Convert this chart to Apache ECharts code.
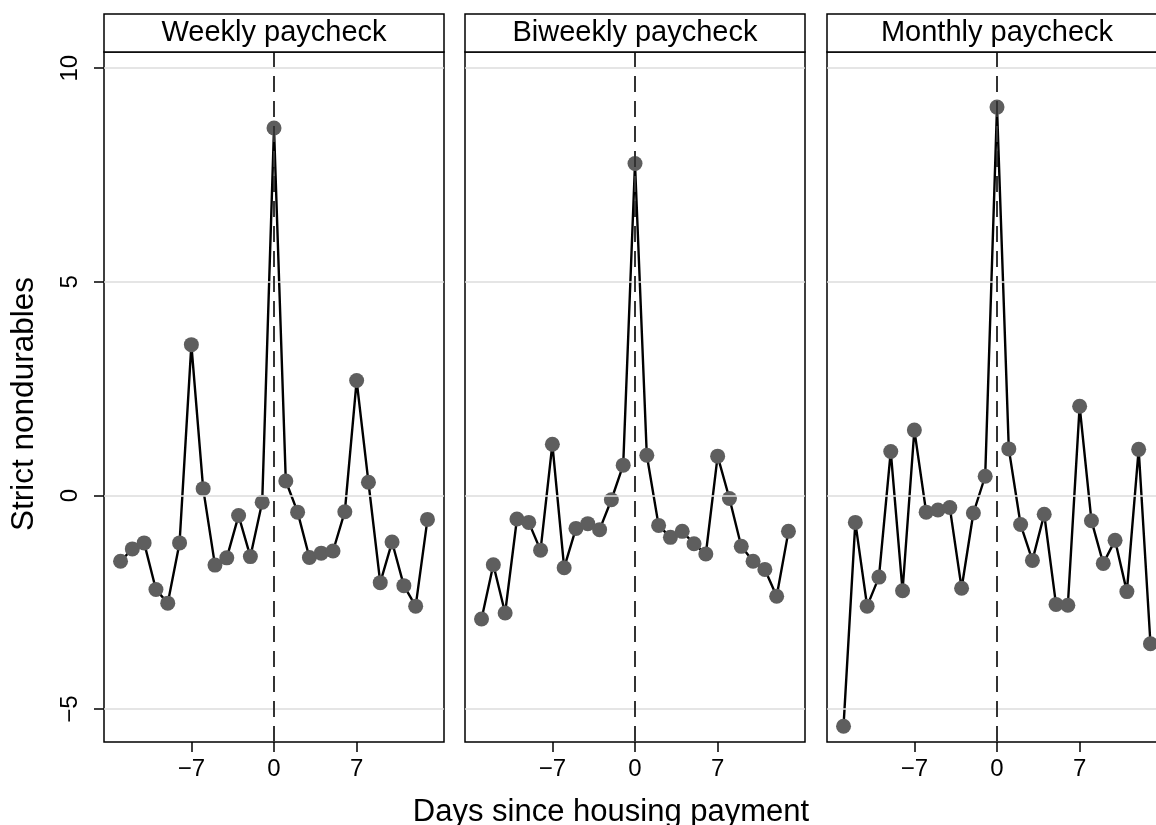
<!DOCTYPE html>
<html>
<head>
<meta charset="utf-8">
<script src="https://cdn.jsdelivr.net/npm/echarts@6/dist/echarts.min.js"></script>
<style>
html,body{margin:0;padding:0;background:#fff;overflow:hidden;width:1156px;height:825px;}
#c{width:1180px;height:825px;}
</style>
</head>
<body>
<div id="c"></div>
<script>
const days = [-13,-12,-11,-10,-9,-8,-7,-6,-5,-4,-3,-2,-1,0,1,2,3,4,5,6,7,8,9,10,11,12,13];
const weekly = [-1.54,-1.25,-1.11,-2.20,-2.52,-1.11,3.53,0.16,-1.63,-1.46,-0.47,-1.43,-0.16,8.60,0.34,-0.39,-1.45,-1.35,-1.30,-0.38,2.69,0.31,-2.04,-1.09,-2.11,-2.59,-0.56];
const biweekly = [-2.89,-1.62,-2.75,-0.55,-0.63,-1.28,1.20,-1.69,-0.77,-0.66,-0.80,-0.10,0.71,7.77,0.94,-0.70,-0.98,-0.84,-1.13,-1.37,0.92,-0.07,-1.19,-1.54,-1.73,-2.36,-0.84];
const monthly = [-5.40,-0.63,-2.59,-1.91,1.03,-2.23,1.53,-0.39,-0.34,-0.28,-2.17,-0.41,0.45,9.09,1.09,-0.68,-1.52,-0.44,-2.55,-2.57,2.09,-0.59,-1.59,-1.05,-2.25,1.08,-3.47];
const panelTitles = ['Weekly paycheck','Biweekly paycheck','Monthly paycheck'];
const xTicks = [-7,0,7];
const yTicks = [-5,0,5,10];

const FONT = '"Liberation Sans", Arial, Helvetica, sans-serif';
const panels = [weekly, biweekly, monthly];
const lefts = [104, 465, 827];
const PW = 340, TOP = 52, PH = 690;
const fmt = v => (v < 0 ? '\u2212' + Math.abs(v) : String(v));

const chart = echarts.init(document.getElementById('c'), null, {renderer:'canvas'});

const grids = [], xAxes = [], yAxes = [], series = [], graphics = [];
panels.forEach((vals, i) => {
  grids.push({left: lefts[i], top: TOP, width: PW, height: PH, show: true,
    borderColor: '#000', borderWidth: 1.5, backgroundColor: 'transparent', containLabel:false});
  xAxes.push({type:'value', gridIndex:i, min:-14.4, max:14.4, position:'bottom',
    axisLine:{show:false, onZero:false}, splitLine:{show:false},
    axisTick:{show:true, customValues:xTicks, length:10, inside:false, lineStyle:{color:'#000', width:1.5}},
    axisLabel:{show:true, customValues:xTicks, margin:15, fontSize:24, color:'#000', fontFamily:FONT, formatter: fmt}});
  yAxes.push({type:'value', gridIndex:i, min:-5.77, max:10.38, position:'left',
    axisLine:{show:false, onZero:false}, splitLine:{show:false},
    axisTick:{show: i===0, customValues:yTicks, length:10, lineStyle:{color:'#000', width:1.5}},
    axisLabel:{show: i===0, customValues:yTicks, rotate:90, margin:22, fontSize:24, color:'#000', fontFamily:FONT, formatter: fmt}});
  const data = days.map((d, k) => [d, vals[k]]);
  series.push({type:'line', xAxisIndex:i, yAxisIndex:i, data: data, symbol:'none', silent:true,
    lineStyle:{width:0, opacity:0}, z:1, animation:false,
    markLine:{silent:true, symbol:['none','none'], label:{show:false}, animation:false,
      data: yTicks.map(t => ({yAxis:t, lineStyle:{color:'#dcdcdc', width:1.6, type:'solid'}}))
        .concat([{xAxis:0, lineStyle:{color:'#333', width:2, type:[16,9]}}])}});
  series.push({type:'line', xAxisIndex:i, yAxisIndex:i, data: data, z:3,
    symbol:'circle', symbolSize:15, showAllSymbol:true,
    itemStyle:{color:'#5e5e5e', borderWidth:0},
    lineStyle:{color:'#000', width:2.4}, animation:false});
  graphics.push({type:'rect', shape:{x:lefts[i], y:14, width:PW, height:TOP-14},
    style:{fill:'#fff', stroke:'#000', lineWidth:1.5}, z:10});
  graphics.push({type:'text', x:lefts[i]+PW/2, y:33,
    style:{text:panelTitles[i], font:'29px ' + FONT, fill:'#000', textAlign:'center', textVerticalAlign:'middle'}, z:11});
});
graphics.push({type:'text', x:611, y:812,
  style:{text:'Days since housing payment', font:'31px ' + FONT, fill:'#000', textAlign:'center', textVerticalAlign:'middle'}});
graphics.push({type:'text', x:24, y:404, rotation:Math.PI/2,
  style:{text:'Strict nondurables', font:'31.5px ' + FONT, fill:'#000', textAlign:'center', textVerticalAlign:'middle'}});

chart.setOption({
  animation:false,
  backgroundColor:'#fff',
  grid: grids, xAxis: xAxes, yAxis: yAxes, series: series, graphic: graphics
});
</script>
</body>
</html>
